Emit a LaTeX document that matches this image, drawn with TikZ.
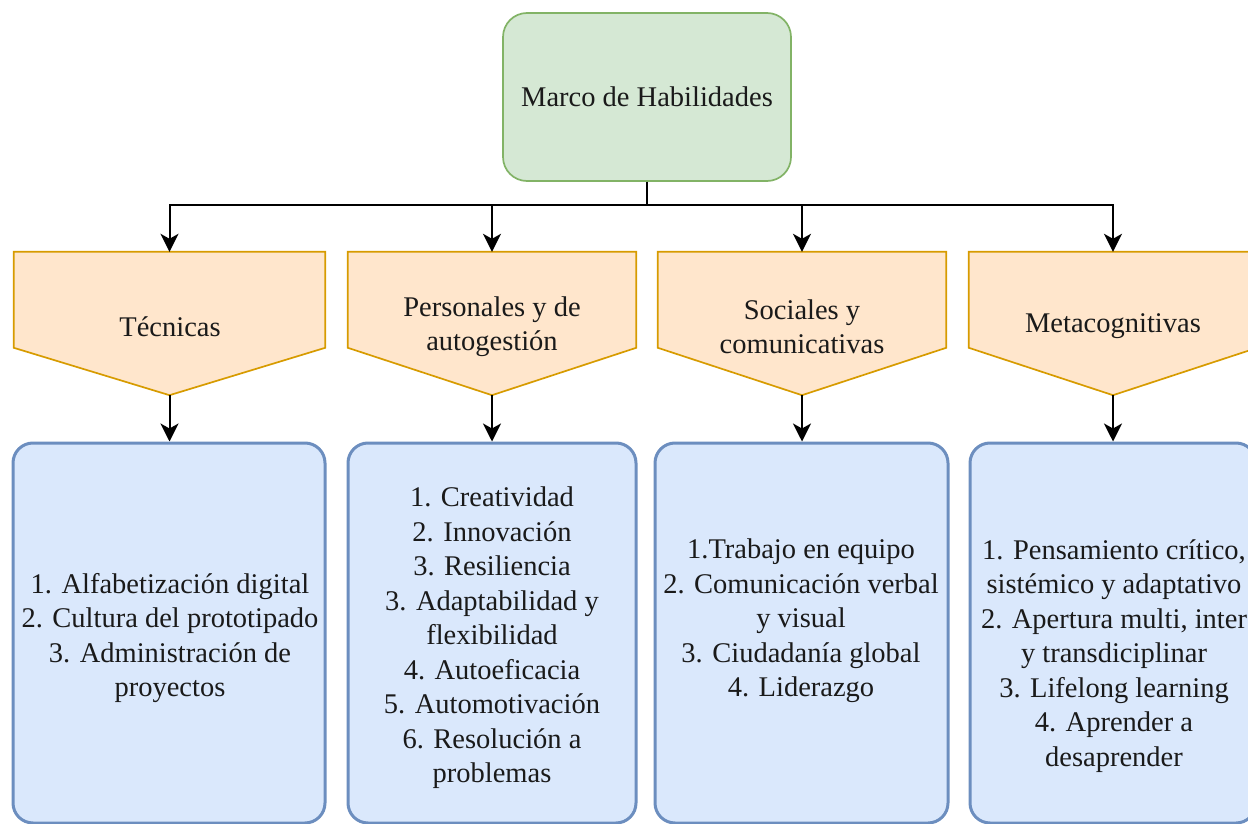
\documentclass[tikz,border=0pt]{standalone}
\usepackage{fontspec}
\setmainfont{Liberation Serif}
\usetikzlibrary{arrows.meta,calc,backgrounds}
\definecolor{greenfill}{HTML}{D5E8D4}
\definecolor{greenline}{HTML}{82B366}
\definecolor{orangefill}{HTML}{FFE6CC}
\definecolor{orangeline}{HTML}{D79B00}
\definecolor{bluefill}{HTML}{DAE8FC}
\definecolor{blueline}{HTML}{6C8EBF}
\definecolor{txtcol}{HTML}{1A1A1A}

\begin{document}
\begin{tikzpicture}[x=1pt,y=-1pt,
  every node/.style={font=\fontsize{28.5}{34.5}\selectfont, text=txtcol, align=center, inner sep=0pt},
  rootbox/.style={draw=greenline, fill=greenfill, line width=1.7pt, rounded corners=24pt,
                  minimum width=288pt, minimum height=168pt},
  catshape/.style={minimum height=143pt},
  catfill/.style={draw=orangeline, fill=orangefill, line width=1.7pt},
  listbox/.style={draw=blueline, fill=bluefill, line width=3pt, rounded corners=20pt,
                  minimum height=380pt},
  link/.style={draw=black, line width=2pt, -{Stealth[length=18pt,width=18pt,inset=5pt]}},
]
\clip (0,0) rectangle (1248,824);

% root
\node[rootbox] (root) at (647,97) {Marco de Habilidades};

% categories: anchor frames, pentagon outlines behind, labels on top
\node[catshape, minimum width=311pt] (c1) at (169.5,323.5) {};
\node[catshape, minimum width=288pt] (c2) at (492,323.5) {};
\node[catshape, minimum width=288pt] (c3) at (802,323.5) {};
\node[catshape, minimum width=288pt] (c4) at (1113,323.5) {};

\begin{scope}[on background layer]
  \foreach \n in {c1,c2,c3,c4}
    \draw[catfill] (\n.north west) -- (\n.north east) -- ($(\n.north east)+(0,96)$)
      -- (\n.south) -- ($(\n.north west)+(0,96)$) -- cycle;
\end{scope}

\node (l1) at (170,326.5) {Técnicas};
\node (l2) at (492,326.5) {Personales y de\\autogestión};
\node (l3) at (802,326.5) {Sociales y\\comunicativas};
\node (l4) at (1113,326.5) {Metacognitivas};

% skill lists
\node[listbox, minimum width=312pt] (b1) at (169,633) {};
\node[listbox, minimum width=288pt] (b2) at (492,633) {};
\node[listbox, minimum width=293pt] (b3) at (801.5,633) {};
\node[listbox, minimum width=286pt] (b4) at (1113,633) {};

\node (t1) at (170,638) {1. Alfabetización digital\\2. Cultura del prototipado\\3. Administración de\\proyectos};
\node (t2) at (492,638) {1. Creatividad\\2. Innovación\\3. Resiliencia\\3. Adaptabilidad y\\flexibilidad\\4. Autoeficacia\\5. Automotivación\\6. Resolución a\\problemas};
\node (t3) at (801,621) {1.Trabajo en equipo\\2. Comunicación verbal\\y visual\\3. Ciudadanía global\\4. Liderazgo};
\node (t4) at (1114,656) {1. Pensamiento crítico,\\sistémico y adaptativo\\2. Apertura multi, inter\\y transdiciplinar\\3. Lifelong learning\\4. Aprender a\\desaprender};

% connectors
\foreach \n in {c1,c2,c3,c4}
  \draw[link] (root.south) -- ++(0,23) -| (\n.north);
\foreach \c/\b in {c1/b1,c2/b2,c3/b3,c4/b4}
  \draw[link] (\c.south) -- (\c.south |- \b.north);
\end{tikzpicture}
\end{document}
